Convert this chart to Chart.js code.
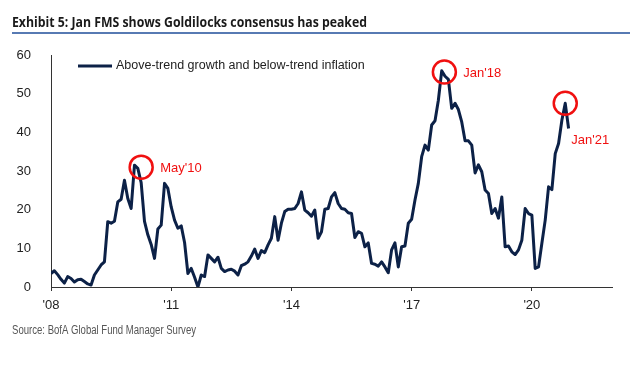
<!DOCTYPE html>
<html>
<head>
<meta charset="utf-8">
<script src="https://cdn.jsdelivr.net/npm/chart.js@4/dist/chart.umd.min.js"></script>
<style>
  html, body { margin: 0; padding: 0; background: #fff; }
  #wrap { width: 640px; height: 371px; position: relative; }
</style>
</head>
<body>
<div id="wrap"><canvas id="fmsChart" width="640" height="371"></canvas></div>
<script>
// Goldilocks share (% of FMS), monthly from Jan 2008
const seriesLabel = 'Above-trend growth and below-trend inflation';
const goldilocks = [
  3.5, 4.2, 3.2, 2.0, 1.0, 2.7, 2.2, 1.3, 1.9, 2.0,
  1.4, 0.8, 0.5, 3.1, 4.4, 5.7, 6.5, 16.9, 16.5, 17.0,
  22.0, 22.7, 27.6, 22.9, 20.3, 31.5, 30.7, 27.0, 17.0, 13.5,
  11.0, 7.4, 15.0, 16.0, 26.8, 25.5, 20.7, 17.3, 15.2, 15.8,
  11.5, 3.5, 4.8, 2.5, 0.0, 3.1, 2.7, 8.3, 7.4, 6.5,
  7.7, 4.8, 4.0, 4.4, 4.6, 4.1, 3.1, 5.5, 5.9, 6.5,
  8.0, 9.8, 7.4, 9.4, 8.9, 10.9, 12.6, 18.2, 12.1, 16.5,
  19.5, 20.1, 20.1, 20.3, 21.6, 24.6, 19.9, 19.2, 18.3, 19.9,
  12.6, 14.3, 20.1, 20.3, 23.3, 24.4, 21.6, 20.3, 20.1, 19.2,
  19.0, 12.8, 14.3, 13.9, 10.4, 11.4, 6.1, 5.9, 5.4, 6.5,
  5.2, 3.7, 9.6, 11.4, 5.2, 10.4, 10.6, 16.5, 17.5, 22.5,
  26.8, 33.7, 36.7, 35.4, 41.9, 43.0, 48.3, 55.9, 54.5, 53.7,
  46.2, 47.5, 45.9, 42.7, 37.8, 37.8, 36.7, 29.5, 31.6, 29.8,
  25.1, 24.2, 19.0, 20.3, 17.8, 23.3, 10.4, 10.6, 9.1, 8.4,
  9.6, 12.1, 20.3, 19.0, 18.6, 4.8, 5.2, 11.3, 17.3, 25.9,
  25.2, 34.5, 37.1, 43.2, 47.5, 41.0
];

// x axis: months since Jan 2008
const tickMonths = [0, 36, 72, 108, 144];
const tickLabels = ["'08", "'11", "'14", "'17", "'20"];
const yTicks = [0, 10, 20, 30, 40, 50, 60];

// circled peaks
const peakMonths = [27, 117.8, 154];
const peakValues = [31, 55.6, 47.5];
const peakLabels = ["May'10", "Jan'18", "Jan'21"];

const titleText = 'Exhibit 5: Jan FMS shows Goldilocks consensus has peaked';
const sourceText = 'Source: BofA Global Fund Manager Survey';

const NAVY = '#0c2147';
const RED = '#f01010';

const extras = {
  id: 'extras',
  afterDraw(chart) {
    const ctx = chart.ctx;
    const xs = chart.scales.x;
    const ys = chart.scales.y;
    ctx.save();

    // title + rule
    ctx.fillStyle = '#1a1a1a';
    ctx.font = 'bold 14px "Liberation Sans Narrow", "Open Sans", sans-serif';
    ctx.textBaseline = 'alphabetic';
    ctx.textAlign = 'left';
    ctx.fillText(titleText, 12, 27, 355);
    ctx.strokeStyle = '#1f4e9a';
    ctx.lineWidth = 1.5;
    ctx.beginPath();
    ctx.moveTo(12, 33);
    ctx.lineTo(630, 33);
    ctx.stroke();

    // legend
    ctx.strokeStyle = NAVY;
    ctx.lineWidth = 3;
    ctx.beginPath();
    ctx.moveTo(78, 66);
    ctx.lineTo(112, 66);
    ctx.stroke();
    ctx.fillStyle = '#222';
    ctx.font = '12.5px "Liberation Sans", Arial, sans-serif';
    ctx.textBaseline = 'middle';
    ctx.fillText(seriesLabel, 116, 66);

    // circles and labels
    ctx.strokeStyle = RED;
    ctx.fillStyle = RED;
    ctx.lineWidth = 2.5;
    ctx.font = '13px "Liberation Sans", Arial, sans-serif';
    peakMonths.forEach((m, i) => {
      const cx = xs.getPixelForValue(m);
      const cy = ys.getPixelForValue(peakValues[i]);
      ctx.beginPath();
      ctx.arc(cx, cy, 11.5, 0, Math.PI * 2);
      ctx.stroke();
      if (i === 2) {
        ctx.fillText(peakLabels[i], cx + 6, cy + 37);
      } else {
        ctx.fillText(peakLabels[i], cx + 19, cy + 1);
      }
    });

    // source
    ctx.fillStyle = '#555';
    ctx.font = '12px "Liberation Sans Narrow", "Liberation Sans", sans-serif';
    ctx.fillText(sourceText, 12, 331, 184);
    ctx.restore();
  }
};

const ctx = document.getElementById('fmsChart').getContext('2d');
new Chart(ctx, {
  type: 'line',
  data: {
    datasets: [{
      label: seriesLabel,
      data: goldilocks.map((v, i) => ({ x: i, y: v })),
      borderColor: NAVY,
      borderWidth: 3,
      pointRadius: 0,
      tension: 0,
      fill: false,
      borderJoinStyle: 'round'
    }]
  },
  options: {
    responsive: false,
    animation: false,
    devicePixelRatio: 1,
    layout: { padding: { top: 55, right: 28, bottom: 58, left: 0 } },
    plugins: {
      legend: { display: false },
      tooltip: { enabled: false }
    },
    scales: {
      x: {
        type: 'linear',
        min: 0,
        max: 168,
        afterBuildTicks: (axis) => { axis.ticks = tickMonths.map(v => ({ value: v })); },
        afterFit: (s) => { s.height = 26; },
        ticks: {
          autoSkip: false,
          maxRotation: 0,
          padding: 7,
          color: '#222',
          font: { family: '"Liberation Sans", Arial, sans-serif', size: 13 },
          callback: (v) => tickLabels[tickMonths.indexOf(v)]
        },
        grid: { drawOnChartArea: false, drawTicks: true, tickLength: 4, color: '#333' },
        border: { color: '#333', width: 1 }
      },
      y: {
        min: 0,
        max: 60,
        afterBuildTicks: (axis) => { axis.ticks = yTicks.map(v => ({ value: v })); },
        afterFit: (s) => { s.width = 51; },
        ticks: {
          padding: 12,
          color: '#222',
          font: { family: '"Liberation Sans", Arial, sans-serif', size: 13 }
        },
        grid: { display: false },
        border: { display: true, color: '#333', width: 1 }
      }
    }
  },
  plugins: [extras]
});
</script>
</body>
</html>
